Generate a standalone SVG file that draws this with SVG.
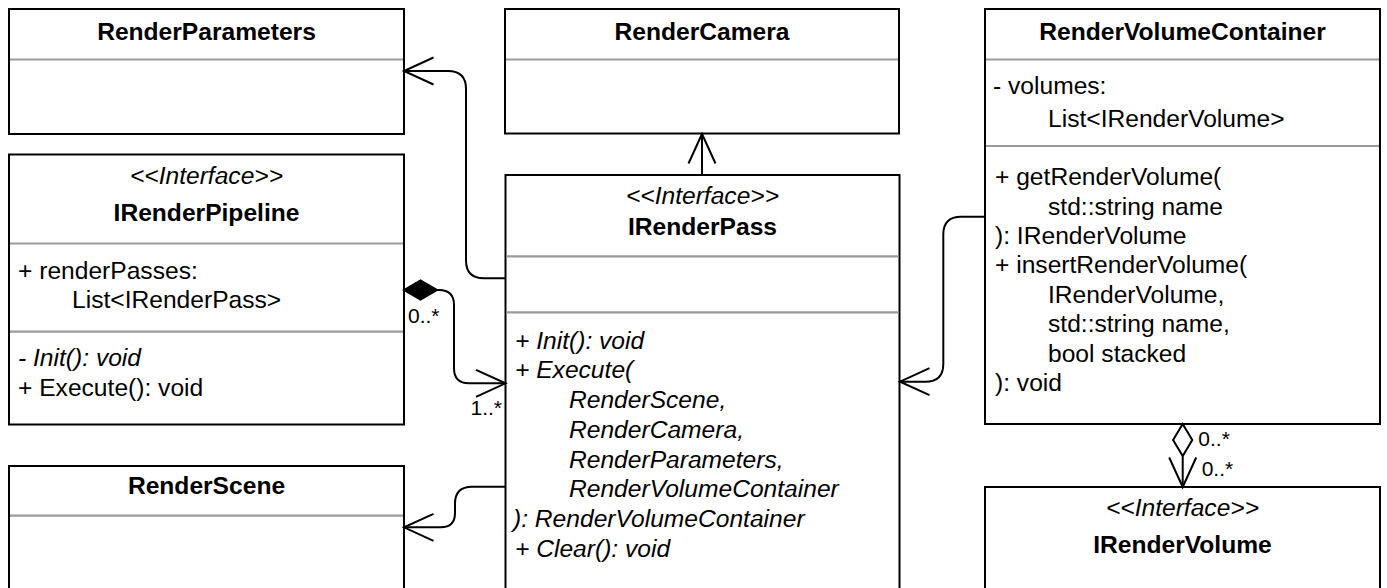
<svg xmlns="http://www.w3.org/2000/svg" width="1387" height="588" viewBox="0 0 1387 588">
<style>
.box{fill:#fff;stroke:#000;stroke-width:2}
.sep{stroke:#9a9a9a;stroke-width:2.2}
text{font-family:"Liberation Sans",Arial,sans-serif;font-size:24.6px;fill:#000}
.t{font-weight:bold;text-anchor:middle}
.st{font-style:italic;text-anchor:middle}
.i{font-style:italic}
.lbl{font-size:21px}
.ln{fill:none;stroke:#000;stroke-width:2}
</style>
<defs>
<marker id="open" markerUnits="userSpaceOnUse" markerWidth="34" markerHeight="32" refX="31" refY="15.5" orient="auto" overflow="visible">
<path d="M1.5,2 L31,15.5 L1.5,29" fill="none" stroke="#000" stroke-width="2"/>
</marker>
</defs>
<rect width="1387" height="588" fill="#fff"/>

<g id="RenderParameters">
<rect class="box" x="9" y="9" width="395" height="125"/>
<line class="sep" x1="10" y1="59.5" x2="403" y2="59.5"/>
<text class="t" x="206.5" y="39.5">RenderParameters</text>
</g>

<g id="RenderCamera">
<rect class="box" x="505" y="9" width="394" height="124.5"/>
<line class="sep" x1="506" y1="59.5" x2="898" y2="59.5"/>
<text class="t" x="702" y="39.5">RenderCamera</text>
</g>

<g id="RenderVolumeContainer">
<rect class="box" x="985" y="9" width="395" height="415"/>
<line class="sep" x1="986" y1="59.5" x2="1379" y2="59.5"/>
<line class="sep" x1="986" y1="146" x2="1379" y2="146"/>
<text class="t" x="1182.5" y="39.5">RenderVolumeContainer</text>
<text x="993" y="94.3">- volumes:</text>
<text x="1048" y="126.7">List&lt;IRenderVolume&gt;</text>
<text x="995" y="185">+ getRenderVolume(</text>
<text x="1048" y="214.5">std::string name</text>
<text x="995" y="244">): IRenderVolume</text>
<text x="995" y="273.4">+ insertRenderVolume(</text>
<text x="1048" y="302.8">IRenderVolume,</text>
<text x="1048" y="332.2">std::string name,</text>
<text x="1048" y="361.7">bool stacked</text>
<text x="995" y="391.2">): void</text>
</g>

<g id="IRenderPipeline">
<rect class="box" x="9" y="154.5" width="395" height="270"/>
<line class="sep" x1="10" y1="243.5" x2="403" y2="243.5"/>
<line class="sep" x1="10" y1="331.7" x2="403" y2="331.7"/>
<text class="st" x="206.5" y="183.5">&lt;&lt;Interface&gt;&gt;</text>
<text class="t" x="206.5" y="221">IRenderPipeline</text>
<text x="18" y="279.3">+ renderPasses:</text>
<text x="72" y="308">List&lt;IRenderPass&gt;</text>
<text x="18" y="366" class="i">- Init(): void</text>
<text x="18" y="396">+ Execute(): void</text>
</g>

<g id="RenderScene">
<rect class="box" x="9" y="466" width="395" height="160"/>
<line class="sep" x1="10" y1="515.7" x2="403" y2="515.7"/>
<text class="t" x="206.5" y="494">RenderScene</text>
</g>

<g id="IRenderPass">
<rect class="box" x="505.5" y="175" width="394" height="450"/>
<line class="sep" x1="506.5" y1="256.3" x2="898.5" y2="256.3"/>
<line class="sep" x1="506.5" y1="312.3" x2="898.5" y2="312.3"/>
<text class="st" x="702.5" y="203.5">&lt;&lt;Interface&gt;&gt;</text>
<text class="t" x="702.5" y="235">IRenderPass</text>
<text class="i" x="515" y="348.5">+ Init(): void</text>
<text class="i" x="515" y="378.3">+ Execute(</text>
<text class="i" x="569" y="408">RenderScene,</text>
<text class="i" x="569" y="437.8">RenderCamera,</text>
<text class="i" x="569" y="467.5">RenderParameters,</text>
<text class="i" x="569" y="497.3">RenderVolumeContainer</text>
<text class="i" x="513" y="527">): RenderVolumeContainer</text>
<text class="i" x="515" y="556.8">+ Clear(): void</text>
</g>

<g id="IRenderVolume">
<rect class="box" x="985" y="487" width="395" height="140"/>
<text class="st" x="1182.5" y="515.7">&lt;&lt;Interface&gt;&gt;</text>
<text class="t" x="1182.5" y="553.3">IRenderVolume</text>
</g>

<g id="connectors">
<path class="ln" d="M505.5,278.3 H484 Q466,278.3 466,260.3 V89 Q466,71 448,71 H404" marker-end="url(#open)"/>
<path class="ln" d="M702,175 V134" marker-end="url(#open)"/>
<path class="ln" d="M437,290 H439 Q454,290 454,305 V368.3 Q454,383.3 469,383.3 H505.5" marker-end="url(#open)"/>
<polygon points="404,290 420.5,280.5 437,290 420.5,299.5" fill="#000" stroke="#000" stroke-width="2"/>
<text class="lbl" x="408" y="323.3">0..*</text>
<text class="lbl" x="502" y="415" text-anchor="end">1..*</text>
<path class="ln" d="M505.5,486.7 H472 Q455,486.7 455,503.7 V513 Q455,527.3 440.7,527.3 H404" marker-end="url(#open)"/>
<path class="ln" d="M985,216.7 H961 Q943.3,216.7 943.3,234.4 V364 Q943.3,381.7 925.6,381.7 H900" marker-end="url(#open)"/>
<path class="ln" d="M1182.7,456 V487" marker-end="url(#open)"/>
<polygon points="1182.7,424 1192.3,440 1182.7,456 1173.1,440" fill="#fff" stroke="#000" stroke-width="2"/>
<text class="lbl" x="1198.3" y="446">0..*</text>
<text class="lbl" x="1201.7" y="476">0..*</text>
</g>
</svg>
